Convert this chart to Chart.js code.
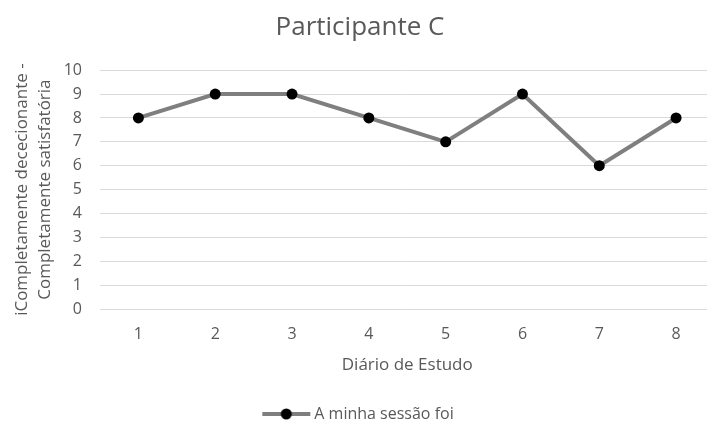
<!DOCTYPE html>
<html>
<head>
<meta charset="utf-8">
<script src="https://cdn.jsdelivr.net/npm/chart.js@4"></script>
<style>
    html, body { margin: 0; padding: 0; background: #fff; overflow: hidden; }
    #wrap { width: 720px; height: 426px; }
</style>
</head>
<body>
<div id="wrap"><canvas id="chart" width="720" height="426"></canvas></div>
<script>
(function () {
    "use strict";

    // Data
    const categories = ["1", "2", "3", "4", "5", "6", "7", "8"];
    const sessao = [8, 9, 9, 8, 7, 9, 6, 8];
    const seriesLabel = "A minha sessão foi";
    const yTitle = ["iCompletamente dececionante -", "Completamente satisfatória"];

    const font = "'Open Sans', 'Noto Sans', sans-serif";
    const textColor = "#595959";

    // legend marker: line with a dot
    const legendIcon = document.createElement("canvas");
    legendIcon.width = 52;
    legendIcon.height = 12;
    const ic = legendIcon.getContext("2d");
    ic.strokeStyle = "#7f7f7f";
    ic.lineWidth = 4;
    ic.beginPath();
    ic.moveTo(2, 6);
    ic.lineTo(50, 6);
    ic.stroke();
    ic.fillStyle = "#000";
    ic.beginPath();
    ic.arc(26, 6, 5.5, 0, Math.PI * 2);
    ic.fill();

    const ctx = document.getElementById("chart").getContext("2d");

    new Chart(ctx, {
        type: "line",
        data: {
            labels: categories,
            datasets: [
                {
                    label: seriesLabel,
                    data: sessao,
                    borderColor: "#7f7f7f",
                    borderWidth: 4,
                    backgroundColor: "#000",
                    pointBackgroundColor: "#000",
                    pointBorderColor: "#000",
                    pointRadius: 5.5,
                    pointBorderWidth: 0,
                    tension: 0,
                },
            ],
        },
        options: {
            responsive: false,
            animation: false,
            layout: {
                padding: { left: 0, right: 0, top: 0, bottom: -6 },
            },
            plugins: {
                title: {
                    display: true,
                    text: "Participante C",
                    color: textColor,
                    font: { family: font, size: 26, weight: "normal", lineHeight: 1.2 },
                    padding: { top: 12, bottom: 27 },
                },
                legend: {
                    position: "bottom",
                    labels: {
                        color: textColor,
                        font: { family: font, size: 16 },
                        usePointStyle: true,
                        pointStyleWidth: 40,
                        padding: 6,
                        generateLabels: (chart) => [
                            {
                                text: seriesLabel,
                                fontColor: textColor,
                                pointStyle: legendIcon,
                                datasetIndex: 0,
                            },
                        ],
                    },
                },
                tooltip: { enabled: false },
            },
            scales: {
                x: {
                    offset: true,
                    grid: { display: false, drawTicks: false },
                    border: { display: true, color: "#d9d9d9", width: 1 },
                    ticks: {
                        color: textColor,
                        font: { family: font, size: 16 },
                        padding: 16,
                    },
                    title: {
                        display: true,
                        text: "Diário de Estudo",
                        color: textColor,
                        font: { family: font, size: 17, lineHeight: 1.2 },
                        padding: { top: 6, bottom: 25 },
                    },
                    afterFit: (scale) => {
                        scale.height = 91;
                    },
                },
                y: {
                    min: 0,
                    max: 10,
                    ticks: {
                        stepSize: 1,
                        color: textColor,
                        font: { family: font, size: 16 },
                        padding: 18,
                    },
                    grid: { color: "#d9d9d9", drawTicks: false },
                    border: { display: false },
                    title: {
                        display: true,
                        text: yTitle,
                        color: textColor,
                        font: { family: font, size: 17, lineHeight: 1.35 },
                        padding: { top: 11, bottom: 4 },
                    },
                    afterFit: (scale) => {
                        scale.width = 100;
                    },
                },
            },
        },
    });
})();
</script>
</body>
</html>
